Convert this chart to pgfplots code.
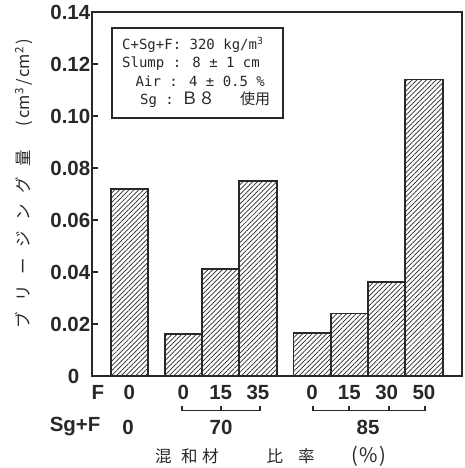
\documentclass[border=0pt]{standalone}
\usepackage{fontspec}
\usepackage{pgfplots}
\pgfplotsset{compat=1.18}
\usetikzlibrary{patterns.meta}
\setmainfont{Liberation Sans}
\newfontfamily\cjk{Noto Sans CJK JP}
\newfontfamily\mono{DejaVu Sans Mono}
\definecolor{ink}{RGB}{40,40,40}
\begin{document}
\begin{tikzpicture}[x=1pt,y=1pt]
\path[use as bounding box] (0,0) rectangle (464,468);
\begin{axis}[
  at={(92pt,92pt)}, anchor=south west, scale only axis,
  width=370pt, height=364pt,
  xmin=0, xmax=9.92, ymin=0, ymax=0.14,
  axis line style={line width=2.4pt, color=ink},
  ybar, bar width=1,
  ytick={0,0.02,0.04,0.06,0.08,0.10,0.12,0.14},
  yticklabels={0\hspace*{11pt},0.02,0.04,0.06,0.08,0.10,0.12,0.14},
  ytick pos=left, tick align=inside, major tick length=6pt,
  tick style={line width=1.6pt, color=ink},
  xtick={1,2.45,3.45,4.45,5.9,6.9,7.9,8.9},
  xticklabels={0,0,15,35,0,15,30,50},
  xtick style={draw=none},
  ticklabel style={font=\fontsize{20.5}{20.5}\selectfont\bfseries, text=ink},
  yticklabel style={inner xsep=1.5pt},
  xticklabel style={anchor=base, inner sep=0pt, yshift=-23.3pt},
  /pgf/number format/assume math mode=true,
  clip=false,
]
\addplot[draw=ink, line width=1.8pt,
  pattern={Lines[angle=45,distance=3.4pt,line width=0.7pt]}, pattern color=ink]
  coordinates {(1,0.072) (2.45,0.016) (3.45,0.041) (4.45,0.075)
               (5.9,0.0165) (6.9,0.024) (7.9,0.036) (8.9,0.114)};
\end{axis}
% lower category rows
\begin{scope}[every node/.style={font=\fontsize{20.5}{20.5}\selectfont\bfseries, text=ink}]
\node at (98,76) {F};
\node[anchor=east] at (104,41) {Sg+F};
\node at (128,41) {0};
\node at (221,41) {70};
\node at (368,41) {85};
\end{scope}
\draw[ink, line width=1.4pt] (182,62)--(182,57.3)--(260,57.3)--(260,62) (221,57.3)--(221,62);
\draw[ink, line width=1.4pt] (313,62)--(313,57.3)--(425,57.3)--(425,62) (349,57.3)--(349,62) (389,57.3)--(389,62);
% x label
\node[anchor=west, text=ink, font=\cjk\fontsize{16.5}{16.5}\selectfont, inner sep=0pt] at (155,12)
  {混\hspace{9.5pt}和\hspace{4.5pt}材\hspace{48pt}比\hspace{15pt}率\hspace{37pt}{\fontsize{20}{20}\selectfont(\hspace{1.5pt}\%\hspace{1.5pt})}};
% y label
\node[rotate=90, text=ink, font=\cjk\fontsize{16.5}{16.5}\selectfont, inner sep=0pt] at (24,284)
  {ブ\hspace{10.5pt}リ\hspace{10.5pt}ー\hspace{10.5pt}ジ\hspace{10.5pt}ン\hspace{10.5pt}グ\hspace{10.5pt}量\hspace{24pt}(\hspace{2pt}cm\textsuperscript{3}\hspace{2pt}/\hspace{2pt}cm\textsuperscript{2}\hspace{2pt})};
% info box
\draw[ink, line width=1.4pt] (112,440) rectangle (283,350);
\begin{scope}[every node/.style={anchor=base west, inner sep=0pt, text=ink, font=\mono\fontsize{14}{14}\selectfont}]
\node at (122,418.4) {C+Sg+F: 320 kg/m\textsuperscript{3}};
\node at (122,400.4) {Slump : 8 ± 1 cm};
\node at (122,381.4) {\hspace*{13.5pt}Air : 4 ± 0.5 \%};
\node at (122,363.4) {\hspace*{18pt}Sg :};
\node[font=\cjk\fontsize{17}{17}\selectfont] at (181,363.4) {Ｂ８};
\node[font=\cjk\fontsize{15}{15}\selectfont] at (240,363.4) {使用};
\end{scope}
\end{tikzpicture}
\end{document}
